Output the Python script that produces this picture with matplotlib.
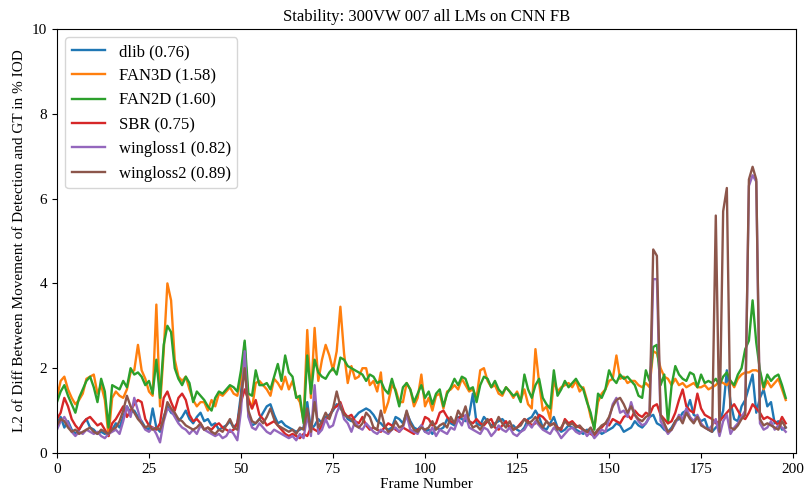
#!/usr/bin/env python3
"""Stability plot: per-frame L2 diff of landmark movement vs GT, 300VW clip 007."""

import numpy as np
import matplotlib
matplotlib.use("Agg")
import matplotlib.pyplot as plt

plt.rcParams['font.family'] = ['Liberation Serif', 'DejaVu Serif']

# per-frame values (frames 0..198)
dlib = [
    0.70, 0.85, 0.60, 0.75, 0.55, 0.45, 0.55, 0.70, 0.80, 0.60,
    0.55, 0.45, 0.50, 0.45, 0.50, 0.55, 0.70, 0.60, 0.85, 1.10,
    0.95, 1.00, 0.85, 0.75, 0.60, 0.55, 1.05, 0.60, 0.50, 0.85,
    1.10, 0.95, 0.90, 0.75, 0.85, 1.00, 0.80, 0.70, 0.85, 0.95,
    0.75, 0.80, 0.65, 0.70, 0.55, 0.60, 0.65, 0.75, 0.60, 0.70,
    1.40, 2.60, 0.90, 0.65, 0.70, 0.80, 0.95, 1.10, 1.15, 0.90,
    0.70, 0.75, 0.65, 0.60, 0.55, 0.50, 0.55, 0.60, 1.20, 0.55,
    0.65, 0.80, 0.70, 0.85, 0.90, 1.00, 1.15, 1.05, 0.95, 0.80,
    0.75, 0.85, 0.95, 1.00, 1.05, 1.00, 0.90, 0.75, 0.70, 0.60,
    0.55, 0.60, 0.85, 0.80, 0.70, 0.95, 0.75, 0.60, 0.55, 0.65,
    0.50, 0.55, 0.45, 0.60, 0.55, 0.60, 0.80, 0.70, 0.65, 0.85,
    0.80, 0.75, 0.90, 1.40, 0.70, 0.65, 0.85, 0.75, 0.65, 0.70,
    0.75, 0.80, 0.70, 0.60, 0.65, 0.55, 0.50, 0.60, 0.80, 0.85,
    1.00, 0.85, 0.60, 0.55, 0.70, 0.85, 0.60, 0.50, 0.55, 0.65,
    0.60, 0.55, 0.50, 0.45, 0.55, 0.50, 0.40, 0.55, 0.45, 0.50,
    0.55, 0.60, 0.70, 0.65, 0.50, 0.55, 0.60, 0.75, 0.65, 0.60,
    0.70, 0.85, 0.90, 0.70, 0.65, 0.55, 0.50, 0.60, 0.75, 0.80,
    0.95, 1.00, 1.25, 0.90, 0.85, 0.75, 0.80, 0.55, 0.50, 0.60,
    0.70, 1.00, 1.95, 1.20, 0.80, 0.75, 1.10, 1.25, 1.55, 1.85,
    0.95, 1.30, 1.50, 1.10, 1.20, 0.70, 0.75, 0.55, 0.60,
]

fan3d = [
    1.30, 1.70, 1.80, 1.50, 1.30, 1.15, 1.25, 1.40, 1.75, 1.80,
    1.85, 1.40, 1.60, 1.25, 0.40, 1.30, 1.45, 1.35, 1.30, 1.50,
    1.90, 1.95, 2.55, 1.95, 1.75, 1.45, 1.35, 3.50, 1.10, 2.40,
    4.00, 3.60, 2.20, 1.80, 1.70, 1.80, 1.50, 1.25, 1.10, 1.20,
    1.20, 1.00, 1.25, 1.10, 1.40, 1.35, 1.45, 1.55, 1.40, 1.35,
    1.75, 2.30, 1.30, 1.05, 1.65, 1.70, 1.60, 1.50, 1.35, 1.75,
    1.65, 1.50, 1.80, 1.50, 1.70, 1.35, 1.20, 0.75, 2.90, 1.30,
    2.95, 1.70, 2.20, 2.55, 2.30, 1.95, 2.40, 3.45, 2.35, 1.65,
    2.05, 1.75, 1.80, 2.00, 2.00, 1.60, 1.70, 1.45, 1.90, 0.95,
    1.20, 1.60, 1.50, 1.20, 1.20, 1.65, 1.50, 1.10, 1.30, 1.85,
    1.10, 1.30, 1.00, 1.35, 1.40, 1.05, 1.45, 1.50, 1.60, 1.50,
    1.75, 1.60, 1.45, 1.50, 1.30, 1.95, 2.00, 1.70, 1.55, 1.60,
    1.40, 1.35, 1.55, 1.45, 1.30, 1.45, 1.25, 1.50, 1.15, 1.05,
    2.45, 1.65, 1.00, 1.10, 0.80, 1.70, 1.45, 1.55, 1.60, 1.65,
    1.55, 1.70, 1.45, 1.55, 1.25, 0.85, 0.60, 1.20, 1.40, 1.50,
    1.70, 1.75, 2.30, 1.75, 1.80, 1.65, 1.70, 1.70, 1.60, 1.55,
    1.65, 1.55, 2.40, 2.35, 2.00, 1.80, 1.75, 1.60, 1.75, 1.60,
    1.65, 1.55, 1.60, 1.65, 1.55, 1.55, 1.60, 1.50, 1.55, 1.60,
    1.70, 1.65, 1.60, 1.70, 1.55, 1.75, 1.85, 1.90, 1.90, 1.95,
    1.95, 1.90, 1.50, 1.70, 1.55, 1.65, 1.75, 1.50, 1.25,
]

fan2d = [
    1.20, 1.45, 1.60, 1.35, 1.15, 0.95, 1.30, 1.50, 1.70, 1.80,
    1.55, 1.20, 1.75, 1.45, 0.60, 1.60, 1.55, 1.50, 1.70, 1.55,
    2.00, 1.85, 1.90, 1.80, 1.60, 1.70, 1.40, 2.20, 1.30, 2.55,
    3.00, 2.85, 2.00, 1.75, 1.60, 1.80, 1.65, 1.20, 1.45, 1.35,
    1.25, 1.10, 1.00, 1.30, 1.45, 1.40, 1.50, 1.60, 1.55, 1.45,
    1.95, 2.65, 1.40, 1.35, 1.95, 1.60, 1.60, 1.65, 1.50, 1.80,
    2.10, 1.70, 2.30, 1.90, 1.80, 1.30, 1.35, 0.70, 2.30, 1.40,
    2.20, 1.90, 1.80, 1.75, 1.90, 2.00, 1.85, 2.25, 2.20, 2.05,
    2.00, 1.95, 1.90, 1.85, 1.70, 1.85, 1.80, 1.65, 1.70, 1.50,
    1.40, 1.75, 1.45, 1.10, 1.55, 1.65, 1.50, 1.20, 1.40, 1.60,
    1.30, 1.45, 1.15, 1.40, 1.50, 1.10, 1.40, 1.55, 1.75, 1.60,
    1.80, 1.75, 1.50, 1.55, 1.20, 1.60, 1.80, 1.75, 1.55, 1.70,
    1.50, 1.40, 1.55, 1.45, 1.35, 1.40, 1.20, 1.85, 1.50, 1.30,
    1.60, 1.75, 1.30, 1.15, 1.05, 1.95, 1.35, 1.50, 1.70, 1.55,
    1.65, 1.75, 1.60, 1.50, 1.20, 0.95, 0.55, 1.40, 1.30, 1.50,
    1.95, 1.75, 1.65, 1.85, 1.75, 1.80, 1.70, 1.60, 1.35, 1.30,
    1.95, 1.70, 2.50, 2.55, 1.60, 1.85, 0.70, 1.60, 2.05, 1.85,
    1.75, 1.70, 1.90, 1.85, 1.55, 1.85, 1.65, 1.70, 1.65, 1.75,
    1.60, 1.80, 1.90, 1.70, 1.60, 1.85, 2.00, 2.45, 2.65, 3.60,
    2.60, 1.95, 1.55, 1.85, 1.70, 1.80, 1.85, 1.60, 1.30,
]

sbr = [
    0.80, 0.95, 1.30, 1.10, 0.80, 0.65, 0.55, 0.70, 0.80, 0.85,
    0.75, 0.65, 0.70, 0.55, 0.40, 0.70, 0.80, 0.95, 1.10, 0.85,
    1.00, 1.15, 1.25, 1.20, 0.80, 0.65, 0.60, 0.55, 0.70, 1.30,
    1.45, 1.20, 1.00, 1.30, 1.40, 1.25, 0.90, 0.75, 0.80, 0.70,
    0.55, 0.60, 0.55, 0.65, 0.70, 0.60, 0.55, 0.50, 0.55, 0.70,
    1.20, 1.50, 1.25, 1.05, 1.25, 0.90, 0.80, 0.65, 0.70, 0.75,
    0.65, 0.55, 0.45, 0.40, 0.45, 0.40, 0.35, 0.45, 0.40, 0.60,
    0.55, 0.50, 0.65, 0.80, 0.85, 1.05, 1.10, 1.20, 0.95, 0.85,
    0.90, 0.75, 0.70, 0.85, 0.65, 0.55, 0.60, 0.55, 0.50, 0.60,
    0.70, 0.65, 0.55, 0.50, 0.60, 0.55, 0.50, 0.45, 0.55, 0.60,
    0.85, 0.80, 0.65, 0.70, 0.95, 1.00, 0.85, 0.75, 0.70, 0.80,
    0.90, 0.85, 0.75, 0.70, 0.80, 0.70, 0.65, 0.75, 0.80, 0.60,
    0.55, 0.65, 0.75, 0.60, 0.55, 0.60, 0.70, 0.80, 0.75, 0.65,
    0.70, 0.90, 0.85, 0.75, 0.65, 0.70, 0.60, 0.55, 0.80, 0.70,
    0.75, 0.65, 0.60, 0.55, 0.50, 0.45, 0.40, 0.55, 0.60, 0.70,
    0.65, 0.80, 0.75, 0.70, 0.85, 0.90, 0.80, 1.00, 0.90, 0.85,
    0.95, 0.90, 1.10, 1.15, 0.90, 0.80, 0.70, 0.75, 0.95, 1.25,
    1.50, 1.10, 1.00, 0.95, 1.40, 1.05, 0.90, 0.85, 0.80, 0.70,
    0.75, 0.85, 0.95, 1.05, 1.15, 1.00, 0.85, 0.80, 0.95, 1.15,
    1.05, 0.95, 0.80, 0.85, 0.80, 0.75, 0.65, 0.85, 0.70,
]

wingloss1 = [
    0.55, 0.75, 0.85, 0.70, 0.50, 0.40, 0.50, 0.45, 0.55, 0.50,
    0.45, 0.50, 0.40, 0.35, 0.45, 0.50, 0.55, 0.45, 0.75, 1.10,
    0.85, 1.30, 1.00, 0.70, 0.55, 0.50, 0.60, 0.45, 0.25, 0.75,
    1.05, 1.00, 0.85, 0.70, 0.60, 0.55, 0.45, 0.55, 0.45, 0.65,
    0.55, 0.50, 0.45, 0.40, 0.45, 0.35, 0.40, 0.55, 0.45, 0.30,
    1.00, 2.40, 0.85, 0.60, 0.55, 0.70, 0.60, 0.50, 0.45, 0.55,
    0.50, 0.45, 0.40, 0.35, 0.40, 0.30, 0.45, 0.35, 0.90, 0.40,
    1.60, 0.45, 0.55, 0.80, 0.60, 0.65, 0.95, 1.15, 0.80, 0.70,
    0.50, 0.75, 0.60, 0.55, 0.70, 0.60, 0.50, 0.45, 0.55, 0.50,
    0.45, 0.55, 0.60, 0.50, 0.60, 0.90, 0.55, 0.50, 0.45, 0.65,
    0.50, 0.45, 0.60, 0.40, 0.55, 0.50, 0.45, 0.60, 0.55, 0.80,
    0.65, 0.90, 0.60, 0.55, 0.50, 0.45, 0.60, 0.55, 0.40, 0.50,
    0.65, 0.55, 0.50, 0.60, 0.45, 0.40, 0.50, 0.55, 0.70, 0.60,
    0.75, 0.65, 0.55, 0.50, 0.45, 0.60, 0.50, 0.35, 0.45, 0.55,
    0.60, 0.50, 0.45, 0.55, 0.40, 0.50, 0.35, 0.45, 0.55, 0.50,
    0.80, 1.15, 1.30, 0.95, 1.00, 0.85, 1.20, 0.90, 0.75, 0.65,
    0.70, 0.85, 4.10, 4.10, 0.75, 0.60, 0.45, 0.55, 0.70, 0.90,
    0.80, 1.05, 0.85, 0.75, 0.90, 0.70, 0.60, 0.55, 0.65, 0.80,
    0.40, 0.75, 0.90, 0.45, 0.60, 0.70, 0.85, 1.00, 6.30, 6.55,
    6.40, 0.70, 0.55, 0.60, 0.75, 0.55, 0.65, 0.60, 0.50,
]

wingloss2 = [
    0.65, 0.80, 0.75, 0.60, 0.50, 0.55, 0.45, 0.50, 0.55, 0.60,
    0.50, 0.45, 0.55, 0.50, 0.45, 0.55, 0.60, 0.75, 1.00, 1.35,
    1.10, 0.95, 0.80, 0.70, 0.60, 0.65, 0.55, 0.60, 0.55, 0.80,
    1.20, 1.05, 0.95, 0.80, 0.75, 0.65, 0.60, 0.55, 0.60, 0.70,
    0.55, 0.60, 0.50, 0.45, 0.55, 0.50, 0.65, 0.80, 0.60, 0.55,
    1.30, 2.00, 1.00, 0.75, 0.70, 0.80, 0.70, 0.85, 1.05, 0.80,
    0.65, 0.60, 0.55, 0.50, 0.55, 0.45, 0.60, 0.55, 1.05, 0.50,
    1.20, 0.60, 0.75, 0.95, 0.80, 1.05, 1.45, 1.10, 0.90, 0.85,
    0.80, 0.65, 0.60, 0.70, 0.95, 0.85, 0.60, 0.55, 1.00, 0.65,
    0.50, 0.55, 0.75, 0.60, 0.65, 1.00, 0.70, 0.55, 0.50, 0.60,
    0.55, 0.60, 0.75, 0.55, 0.65, 0.70, 0.60, 0.85, 0.70, 1.00,
    0.85, 1.10, 0.75, 0.60, 0.65, 0.55, 0.70, 0.80, 0.60, 0.65,
    0.85, 0.70, 0.60, 0.75, 0.55, 0.60, 0.65, 0.80, 0.70, 0.75,
    0.85, 0.70, 0.60, 0.75, 0.65, 0.70, 0.55, 0.60, 0.75, 0.65,
    0.70, 0.60, 0.65, 0.55, 0.50, 0.60, 0.45, 0.55, 0.65, 0.70,
    0.85, 1.10, 1.25, 1.30, 1.15, 0.95, 1.10, 0.90, 0.80, 0.75,
    0.85, 0.90, 4.80, 4.65, 0.90, 0.70, 0.50, 0.55, 0.75, 0.85,
    0.70, 0.95, 0.80, 0.70, 0.85, 0.65, 0.60, 0.55, 0.50, 5.60,
    0.50, 5.70, 6.25, 0.60, 0.55, 0.65, 0.80, 0.90, 6.45, 6.75,
    6.45, 0.80, 0.65, 0.70, 0.65, 0.60, 0.55, 0.75, 0.60,
]

series = {
    "dlib (0.76)": dlib,
    "FAN3D (1.58)": fan3d,
    "FAN2D (1.60)": fan2d,
    "SBR (0.75)": sbr,
    "wingloss1 (0.82)": wingloss1,
    "wingloss2 (0.89)": wingloss2,
}

fig = plt.figure(figsize=(8.07, 4.99), dpi=100)
ax = fig.add_axes([0.0706, 0.0922, 0.9158, 0.8497])

for label, vals in series.items():
    ax.plot(np.arange(len(vals)), vals, lw=1.7, label=label)

ax.set_xlim(0, 200.8)
ax.set_ylim(0, 10)
ax.set_xticks(np.arange(0, 201, 25))
ax.set_yticks(np.arange(0, 11, 2))
ax.tick_params(labelsize=11)
ax.set_title("Stability: 300VW 007 all LMs on CNN FB", fontsize=12)
ax.set_xlabel("Frame Number", fontsize=11, labelpad=2)
ax.set_ylabel("L2 of Diff Between Movement of Detection and GT in % IOD", fontsize=11)
ax.legend(loc="upper left", fontsize=12)

fig.savefig("out.png", dpi=100)
